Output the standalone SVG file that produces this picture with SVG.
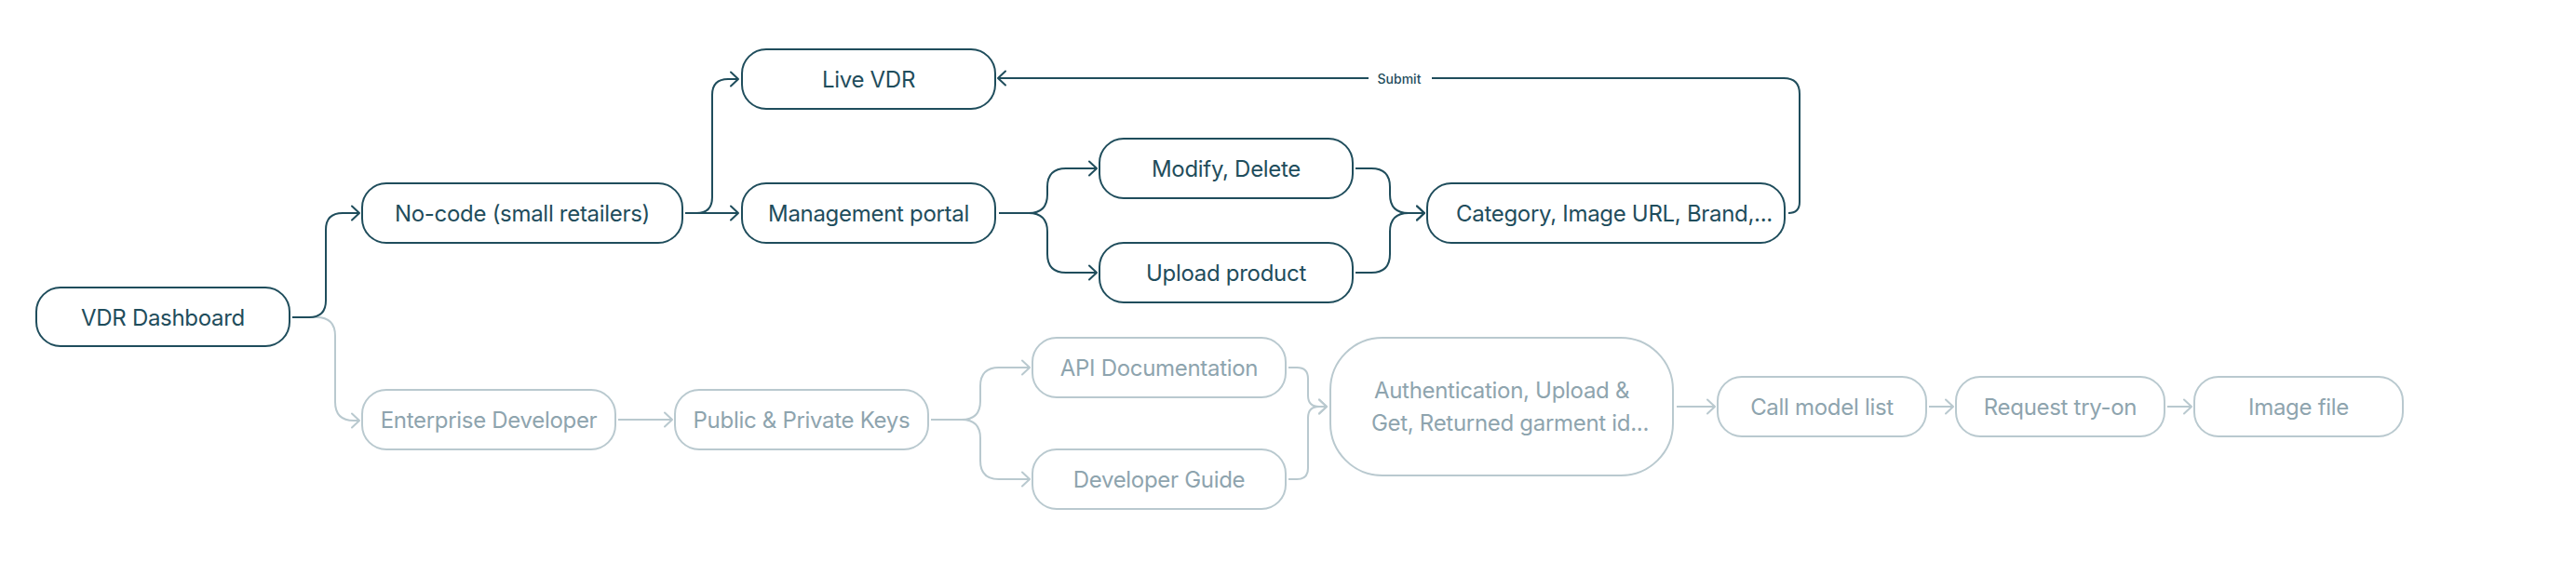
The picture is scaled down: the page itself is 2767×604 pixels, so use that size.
<svg xmlns="http://www.w3.org/2000/svg" width="2767" height="604" viewBox="0 0 2767 604">
<defs>
<style>
.n rect{fill:#ffffff;stroke-width:2}
.d rect{stroke:#1f4d5c}
.g rect{stroke:#b9c9cf}
text{font-family:Inter,"Noto Sans","Liberation Sans",sans-serif;font-size:24px;text-anchor:middle;letter-spacing:-0.3px}
.d text{fill:#1f4d5c}
.g text{fill:#8ea4ae}
.cd{fill:none;stroke:#1f4d5c;stroke-width:2}
.cg{fill:none;stroke:#b9c9cf;stroke-width:2}
.lbl{font-size:14px;font-weight:500;fill:#1f4d5c;letter-spacing:0}
</style>
<marker id="ad" viewBox="0 0 12 18" refX="10" refY="9" markerWidth="12" markerHeight="18" markerUnits="userSpaceOnUse" orient="auto">
<path d="M2 1.5 L10 9 L2 16.5" fill="none" stroke="#1f4d5c" stroke-width="2" stroke-linecap="round" stroke-linejoin="round"/>
</marker>
<marker id="ag" viewBox="0 0 12 18" refX="10" refY="9" markerWidth="12" markerHeight="18" markerUnits="userSpaceOnUse" orient="auto">
<path d="M2 1.5 L10 9 L2 16.5" fill="none" stroke="#b9c9cf" stroke-width="2" stroke-linecap="round" stroke-linejoin="round"/>
</marker>
</defs>
<rect width="2767" height="604" fill="#ffffff"/>
<g id="connectors">
<path class="cg" marker-end="url(#ag)" d="M314 341 H340 Q360 341 360 361 V432 Q360 452 380 452 H386"/>
<path class="cd" marker-end="url(#ad)" d="M314 341 H332 Q350 341 350 323 V247 Q350 229 368 229 H386"/>
<path class="cd" marker-end="url(#ad)" d="M736 229 H793"/>
<path class="cd" marker-end="url(#ad)" d="M736 229 H748 Q765 229 765 212 V102 Q765 85 782 85 H793"/>
<path class="cd" marker-end="url(#ad)" d="M1073 229 H1105 Q1125 229 1125 209 V201 Q1125 181 1145 181 H1178"/>
<path class="cd" marker-end="url(#ad)" d="M1073 229 H1105 Q1125 229 1125 249 V273 Q1125 293 1145 293 H1178"/>
<path class="cd" marker-end="url(#ad)" d="M1456 181 H1473 Q1493 181 1493 201 V209 Q1493 229 1513 229 H1530"/>
<path class="cd" marker-end="url(#ad)" d="M1456 293 H1473 Q1493 293 1493 273 V249 Q1493 229 1513 229 H1530"/>
<path class="cd" marker-end="url(#ad)" d="M1921 229 Q1933 229 1933 217 V101 Q1933 84 1916 84 H1072"/>
<rect x="1470" y="74" width="68" height="20" fill="#ffffff"/>
<text class="lbl" x="1503" y="89.5">Submit</text>
<path class="cg" marker-end="url(#ag)" d="M664 451 H722"/>
<path class="cg" marker-end="url(#ag)" d="M1000 451 H1033 Q1053 451 1053 431 V415 Q1053 395 1073 395 H1106"/>
<path class="cg" marker-end="url(#ag)" d="M1000 451 H1033 Q1053 451 1053 471 V495 Q1053 515 1073 515 H1106"/>
<path class="cg" marker-end="url(#ag)" d="M1384 395 H1393 Q1405 395 1405 407 V425 Q1405 437 1417 437 H1425"/>
<path class="cg" marker-end="url(#ag)" d="M1384 515 H1393 Q1405 515 1405 503 V449 Q1405 437 1417 437 H1425"/>
<path class="cg" marker-end="url(#ag)" d="M1801 437 H1842"/>
<path class="cg" marker-end="url(#ag)" d="M2072 437 H2098"/>
<path class="cg" marker-end="url(#ag)" d="M2328 437 H2354"/>
</g>
<g id="vdr-dashboard" class="n d"><rect x="39" y="309" width="272" height="63" rx="26"/><text x="175" y="349.5">VDR Dashboard</text></g>
<g id="no-code" class="n d"><rect x="389" y="197" width="344" height="64" rx="26"/><text x="561" y="237.5">No-code (small retailers)</text></g>
<g id="live-vdr" class="n d"><rect x="797" y="53" width="272" height="64" rx="26"/><text x="933" y="93.5">Live VDR</text></g>
<g id="management-portal" class="n d"><rect x="797" y="197" width="272" height="64" rx="26"/><text x="933" y="237.5">Management portal</text></g>
<g id="modify-delete" class="n d"><rect x="1181" y="149" width="272" height="64" rx="26"/><text x="1317" y="189.5">Modify, Delete</text></g>
<g id="upload-product" class="n d"><rect x="1181" y="261" width="272" height="64" rx="26"/><text x="1317" y="301.5">Upload product</text></g>
<g id="category" class="n d"><rect x="1533" y="197" width="384" height="64" rx="26"/><text x="1734" y="237.5">Category, Image URL, Brand,...</text></g>
<g id="enterprise-developer" class="n g"><rect x="389" y="419" width="272" height="64" rx="26"/><text x="525" y="459.5">Enterprise Developer</text></g>
<g id="public-private-keys" class="n g"><rect x="725" y="419" width="272" height="64" rx="26"/><text x="861" y="459.5">Public &amp; Private Keys</text></g>
<g id="api-documentation" class="n g"><rect x="1109" y="363" width="272" height="64" rx="26"/><text x="1245" y="403.5">API Documentation</text></g>
<g id="developer-guide" class="n g"><rect x="1109" y="483" width="272" height="64" rx="26"/><text x="1245" y="523.5">Developer Guide</text></g>
<g id="authentication" class="n g"><rect x="1429" y="363" width="368" height="148" rx="56"/><text x="1613" y="428">Authentication, Upload &amp;</text><text x="1622" y="463">Get, Returned garment id...</text></g>
<g id="call-model-list" class="n g"><rect x="1845" y="405" width="224" height="64" rx="26"/><text x="1957" y="445.5">Call model list</text></g>
<g id="request-try-on" class="n g"><rect x="2101" y="405" width="224" height="64" rx="26"/><text x="2213" y="445.5">Request try-on</text></g>
<g id="image-file" class="n g"><rect x="2357" y="405" width="224" height="64" rx="26"/><text x="2469" y="445.5">Image file</text></g>
</svg>
